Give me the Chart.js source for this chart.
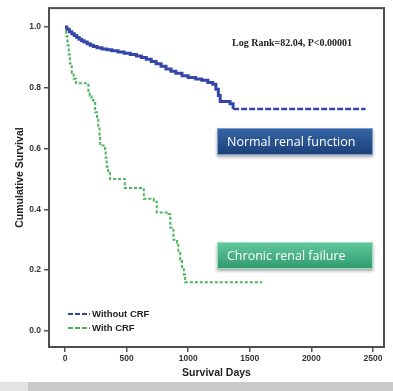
<!DOCTYPE html>
<html><head><meta charset="utf-8">
<script src="https://cdn.jsdelivr.net/npm/chart.js@4.4.0/dist/chart.umd.min.js"></script>
<style>html,body{margin:0;padding:0;background:#fff}#wrap{width:393px;height:391px;position:relative}</style>
</head><body><div id="wrap"><canvas id="c" width="393" height="391"></canvas></div>
<script>
const seriesNames = ['Without CRF', 'With CRF'];
const withoutCrfDays = [0,15,35,55,75,95,115,135,155,180,205,230,260,300,340,380,430,480,530,580,620,660,700,740,780,820,860,900,950,1000,1060,1110,1160,1200,1225,1245,1260,1340,1365,2440];
const withoutCrfSurvival = [1,0.993,0.985,0.978,0.972,0.966,0.96,0.955,0.951,0.945,0.94,0.936,0.932,0.928,0.925,0.922,0.918,0.914,0.91,0.905,0.9,0.894,0.887,0.879,0.871,0.862,0.855,0.848,0.84,0.834,0.829,0.825,0.818,0.812,0.795,0.775,0.755,0.748,0.73,0.73];
const withCrfDays = [0,10,20,30,40,55,70,90,190,200,215,230,245,260,270,280,285,325,330,338,350,365,485,640,720,745,840,855,880,910,920,935,950,965,975,1600];
const withCrfSurvival = [1,0.97,0.94,0.91,0.88,0.85,0.83,0.815,0.79,0.775,0.76,0.75,0.72,0.7,0.67,0.64,0.61,0.595,0.57,0.54,0.52,0.5,0.47,0.435,0.425,0.39,0.385,0.34,0.3,0.29,0.26,0.235,0.21,0.185,0.16,0.16];
const xTickValues = [0, 500, 1000, 1500, 2000, 2500];
const yTickValues = [0, 0.2, 0.4, 0.6, 0.8, 1.0];
const xTitle = 'Survival Days';
const yTitle = 'Cumulative Survival';
const statText = 'Log Rank=82.04, P<0.00001';
const boxLabels = ['Normal renal function', 'Chronic renal failure'];

const blue = '#3446a8';
const green = '#4cb55a';

function toPts(xs, ys) { return xs.map((x, i) => ({x: x, y: ys[i]})); }

const decor = {
  id: 'decor',
  beforeDraw(chart) {
    const ctx = chart.ctx;
    ctx.save();
    ctx.fillStyle = '#fff';
    ctx.fillRect(0, 0, chart.width, chart.height);
    ctx.restore();
  },
  afterDraw(chart) {
    const ctx = chart.ctx;
    const a = chart.chartArea;
    ctx.save();
    ctx.strokeStyle = '#4d4d4d';
    ctx.lineWidth = 2;
    ctx.strokeRect(a.left, a.top, a.right - a.left, a.bottom - a.top);
    ctx.fillStyle = '#222';
    ctx.font = 'bold 10px "Liberation Serif"';
    ctx.textAlign = 'center';
    ctx.textBaseline = 'middle';
    ctx.fillText(statText, 292, 43);
    const boxes = [
      {y: 128, top: '#3566a6', bot: '#1d3f78', edge: '#7e9dcc', label: boxLabels[0]},
      {y: 242, top: '#63c99f', bot: '#2f9a6d', edge: '#9ee0c3', label: boxLabels[1]}
    ];
    boxes.forEach(b => {
      const g = ctx.createLinearGradient(0, b.y, 0, b.y + 27);
      g.addColorStop(0, b.top); g.addColorStop(1, b.bot);
      ctx.shadowColor = 'rgba(0,0,0,0.35)'; ctx.shadowBlur = 3; ctx.shadowOffsetY = 2;
      ctx.fillStyle = g;
      ctx.fillRect(217, b.y, 156, 27);
      ctx.shadowColor = 'transparent';
      ctx.strokeStyle = b.edge; ctx.lineWidth = 1;
      ctx.strokeRect(217.5, b.y + 0.5, 155, 26);
      ctx.fillStyle = '#fff';
      ctx.font = '12.5px "Open Sans"';
      ctx.textAlign = 'left';
      ctx.fillText(b.label, 227, b.y + 14);
    });
    const ds = chart.data.datasets;
    ds.forEach((d, i) => {
      const y = 314 + i * 14;
      ctx.strokeStyle = d.borderColor;
      ctx.lineWidth = 2;
      ctx.setLineDash([5, 2]);
      ctx.beginPath(); ctx.moveTo(68, y); ctx.lineTo(90, y); ctx.stroke();
      ctx.setLineDash([]);
      ctx.fillStyle = '#222';
      ctx.font = 'bold 9.5px "Liberation Sans"';
      ctx.textAlign = 'left';
      ctx.fillText(d.label, 92, y + 0.5);
    });
    ctx.fillStyle = '#c9c9c9';
    ctx.fillRect(0, 382, 393, 9);
    ctx.fillStyle = '#e3e3e3';
    ctx.fillRect(0, 382, 28, 9);
    ctx.restore();
  }
};

new Chart(document.getElementById('c'), {
  type: 'line',
  data: {
    datasets: [
      {label: seriesNames[0], data: toPts(withoutCrfDays, withoutCrfSurvival), borderColor: blue, borderWidth: 3, stepped: 'before', pointRadius: 0, fill: false,
       segment: {borderDash: c => c.p0.parsed.x >= 1365 ? [6, 2] : [], borderWidth: c => c.p0.parsed.x >= 1365 ? 2.5 : 3}},
      {label: seriesNames[1], data: toPts(withCrfDays, withCrfSurvival), borderColor: green, borderWidth: 2, borderDash: [3, 2], stepped: 'before', pointRadius: 0, fill: false}
    ]
  },
  options: {
    responsive: false,
    devicePixelRatio: 1,
    animation: false,
    layout: {padding: {left: 0, top: 8, right: 9, bottom: 0}},
    plugins: {legend: {display: false}, tooltip: {enabled: false}},
    scales: {
      x: {
        type: 'linear', min: -130, max: 2590,
        afterBuildTicks: s => { s.ticks = xTickValues.map(v => ({value: v})); },
        afterFit: s => { s.height = 44; },
        border: {display: false},
        grid: {display: true, drawOnChartArea: false, drawTicks: true, tickLength: 5, color: '#555', lineWidth: 1.5},
        ticks: {color: '#333', padding: 2, font: {family: 'Liberation Sans', size: 8.5, weight: 'bold'}, maxRotation: 0, callback: v => String(v)},
        title: {display: true, text: xTitle, color: '#222', font: {family: 'Liberation Sans', size: 10.5, weight: 'bold'}, padding: {top: 0, bottom: 11.5}}
      },
      y: {
        type: 'linear', min: -0.053, max: 1.0625,
        afterBuildTicks: s => { s.ticks = yTickValues.map(v => ({value: v})); },
        afterFit: s => { s.width = 49; },
        border: {display: false},
        grid: {display: true, drawOnChartArea: false, drawTicks: true, tickLength: 5, color: '#555', lineWidth: 1.5},
        ticks: {color: '#333', padding: 3, font: {family: 'Liberation Sans', size: 8.5, weight: 'bold'}, callback: v => Number(v).toFixed(1)},
        title: {display: true, text: yTitle, color: '#222', font: {family: 'Liberation Sans', size: 10.5, weight: 'bold'}, padding: {top: 14, bottom: 0}}
      }
    }
  },
  plugins: [decor]
});
</script>
</body></html>
